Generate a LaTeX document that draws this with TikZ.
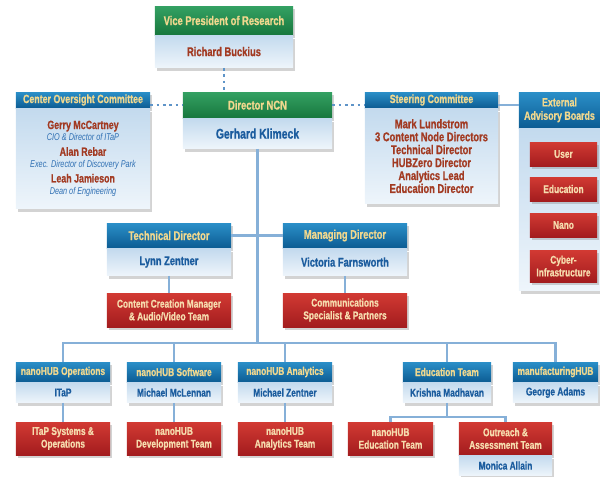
\documentclass[tikz,border=0pt]{standalone}
\usepackage{fontspec}
\setmainfont{Liberation Sans}[FakeStretch=0.74, BoldFeatures={FakeBold=0.8}]
\usetikzlibrary{shadows}

\definecolor{greentop}{HTML}{34A163}
\definecolor{greenbot}{HTML}{17773D}
\definecolor{bluetop}{HTML}{2B8FC8}
\definecolor{bluebot}{HTML}{0C5C93}
\definecolor{bodytop}{HTML}{C3DAEE}
\definecolor{bodybot}{HTML}{EEF5FB}
\definecolor{redtop}{HTML}{D23A33}
\definecolor{redbot}{HTML}{A31C1E}
\definecolor{goldtext}{HTML}{F1D88E}
\definecolor{creamtext}{HTML}{F6DCAE}
\definecolor{rusttext}{HTML}{A23A22}
\definecolor{navytext}{HTML}{1B5C9E}
\definecolor{roletext}{HTML}{2F6FB3}
\definecolor{linkblue}{HTML}{86B0D8}
\definecolor{dotblue}{HTML}{5E94C8}

\newcommand{\cocrole}[1]{{\fontsize{7}{8}\selectfont\mdseries\itshape\color{roletext}#1}}

\tikzset{
  box/.style={rectangle, inner sep=1pt, align=center,
    font=\fontsize{9}{10}\selectfont\bfseries,
    drop shadow={opacity=0.35, shadow xshift=0.5mm, shadow yshift=-0.8mm}},
  hdrgreen/.style={box, top color=greentop, bottom color=greenbot, text=goldtext},
  hdrblue/.style={box, top color=bluetop, bottom color=bluebot, text=goldtext},
  namebox/.style={box, top color=bodytop, bottom color=bodybot, text=navytext, anchor=north},
  teambox/.style={box, top color=redtop, bottom color=redbot, text=creamtext,
    font=\fontsize{8}{9}\selectfont\bfseries},
  link/.style={linkblue, line width=2pt},
  dotlink/.style={dotblue, line width=2pt, dash pattern=on 2pt off 2.5pt},
}

\begin{document}
\begin{tikzpicture}[x=0.025cm, y=-0.025cm]
  \useasboundingbox (0,0) rectangle (600,476);

  % top
  \node[hdrgreen, minimum width=3.45cm, minimum height=0.725cm] (vp) at (224,20.5) {Vice President of Research};
  \node[namebox, text=rusttext, minimum width=3.45cm, minimum height=0.8cm] (vpname) at (vp.south) {Richard Buckius};

  \node[hdrgreen, minimum width=3.725cm, minimum height=0.65cm] (dir) at (257.5,105) {Director NCN};
  \node[namebox, minimum width=3.725cm, minimum height=0.75cm, font=\fontsize{10}{11}\selectfont\bfseries] (dirname) at (dir.south) {Gerhard Klimeck};

  % committees
  \node[hdrblue, minimum width=3.35cm, minimum height=0.4cm, font=\fontsize{8.5}{9}\selectfont\bfseries] (coc) at (83,100) {Center Oversight Committee};
  \node[namebox, text=rusttext, minimum width=3.35cm, minimum height=2.5cm, font=\fontsize{8.5}{9.5}\selectfont\bfseries] (cocbody) at (coc.south)
    {Gerry McCartney\\[-1pt] \cocrole{CIO \& Director of ITaP}\\[1pt]
     Alan Rebar\\[-1pt] \cocrole{Exec. Director of Discovery Park}\\[1pt]
     Leah Jamieson\\[-1pt] \cocrole{Dean of Engineering}};

  \node[hdrblue, minimum width=3.325cm, minimum height=0.4cm, font=\fontsize{8.5}{9}\selectfont\bfseries] (sc) at (431.5,100) {Steering Committee};
  \node[namebox, text=rusttext, minimum width=3.325cm, minimum height=2.375cm, font=\fontsize{9}{9.2}\selectfont\bfseries] (scbody) at (sc.south)
    {Mark Lundstrom\\3 Content Node Directors\\Technical Director\\HUBZero Director\\Analytics Lead\\Education Director};

  \node[hdrblue, minimum width=2.025cm, minimum height=0.9cm, font=\fontsize{8.5}{9.5}\selectfont\bfseries] (eab) at (559.5,110) {External\\Advisory Boards};
  \node[namebox, minimum width=2.025cm, minimum height=4.05cm] (eabbody) at (eab.south) {};
  \node[teambox, minimum width=1.675cm, minimum height=0.6cm] (user) at (563.5,154) {User};
  \node[teambox, minimum width=1.675cm, minimum height=0.6cm] (edu) at (563.5,189) {Education};
  \node[teambox, minimum width=1.675cm, minimum height=0.6cm] (nano) at (563.5,225) {Nano};
  \node[teambox, minimum width=1.675cm, minimum height=0.8cm] (cyber) at (563.5,266) {Cyber-\\Infrastructure};

  % directors
  \node[hdrblue, minimum width=3.1cm, minimum height=0.625cm] (td) at (169,235.5) {Technical Director};
  \node[namebox, minimum width=3.1cm, minimum height=0.675cm] (tdname) at (td.south) {Lynn Zentner};
  \node[hdrblue, minimum width=3.1cm, minimum height=0.625cm] (md) at (345,235.5) {Managing Director};
  \node[namebox, minimum width=3.1cm, minimum height=0.675cm] (mdname) at (md.south) {Victoria Farnsworth};
  \node[teambox, minimum width=3.1cm, minimum height=0.85cm] (ccteam) at (169,310) {Content Creation Manager\\\& Audio/Video Team};
  \node[teambox, minimum width=3.1cm, minimum height=0.85cm] (commteam) at (345,310) {Communications\\Specialist \& Partners};

  % bottom row
  \tikzset{rowhdr/.style={hdrblue, minimum height=0.5cm, font=\fontsize{8}{9}\selectfont\bfseries},
           rowname/.style={namebox, minimum height=0.5cm, font=\fontsize{8}{9}\selectfont\bfseries},
           rowteam/.style={teambox, minimum height=0.825cm}}
  \node[rowhdr, minimum width=2.35cm] (ops) at (63,372) {nanoHUB Operations};
  \node[rowname, minimum width=2.35cm] (opsname) at (ops.south) {ITaP};
  \node[rowhdr, minimum width=2.35cm] (sw) at (174,372) {nanoHUB Software};
  \node[rowname, minimum width=2.35cm] (swname) at (sw.south) {Michael McLennan};
  \node[rowhdr, minimum width=2.35cm] (an) at (285,372) {nanoHUB Analytics};
  \node[rowname, minimum width=2.35cm] (anname) at (an.south) {Michael Zentner};
  \node[rowhdr, minimum width=2.2cm] (et) at (447,372) {Education Team};
  \node[rowname, minimum width=2.2cm] (etname) at (et.south) {Krishna Madhavan};
  \node[rowhdr, minimum width=2.125cm] (mfg) at (555.5,372) {manufacturingHUB};
  \node[rowname, minimum width=2.125cm] (mfgname) at (mfg.south) {George Adams};

  \node[rowteam, minimum width=2.35cm] (itapteam) at (63,438.5) {ITaP Systems \&\\Operations};
  \node[rowteam, minimum width=2.35cm] (devteam) at (174,438.5) {nanoHUB\\Development Team};
  \node[rowteam, minimum width=2.35cm] (anteam) at (285,438.5) {nanoHUB\\Analytics Team};
  \node[rowteam, minimum width=2.125cm] (eduteam) at (390.5,438.5) {nanoHUB\\Education Team};
  \node[rowteam, minimum width=2.325cm] (outteam) at (505.5,438.5) {Outreach \&\\Assessment Team};
  \node[rowname, minimum width=2.325cm] (monica) at (outteam.south) {Monica Allain};

  % connectors
  \coordinate (bus) at (0,343);
  \coordinate (edusplit) at (0,417);
  \draw[dotlink] (vpname.south) -- (vpname.south |- dir.north);
  \draw[dotlink] (coc.east |- dir.west) -- (dir.west);
  \draw[dotlink] (dir.east) -- (sc.west |- dir.east);
  \draw[link] (sc.east |- dir.east) -- (eab.west |- dir.east);
  \draw[link] (dirname.south) -- (dirname.south |- bus);
  \draw[link] (td.east) -- (md.west);
  \draw[link] (tdname.south) -- (ccteam.north);
  \draw[link] (mdname.south) -- (commteam.north);
  \draw[link] (ops.north) -- (ops.north |- bus) -- (mfg.north |- bus) -- (mfg.north);
  \foreach \n in {sw, an, et}
    \draw[link] (\n.north) -- (\n.north |- bus);
  \draw[link] (opsname.south) -- (itapteam.north);
  \draw[link] (swname.south) -- (devteam.north);
  \draw[link] (anname.south) -- (anteam.north);
  \draw[link] (etname.south) -- (etname.south |- edusplit);
  \draw[link] (eduteam.north) -- (eduteam.north |- edusplit) -- (outteam.north |- edusplit) -- (outteam.north);
\end{tikzpicture}
\end{document}
